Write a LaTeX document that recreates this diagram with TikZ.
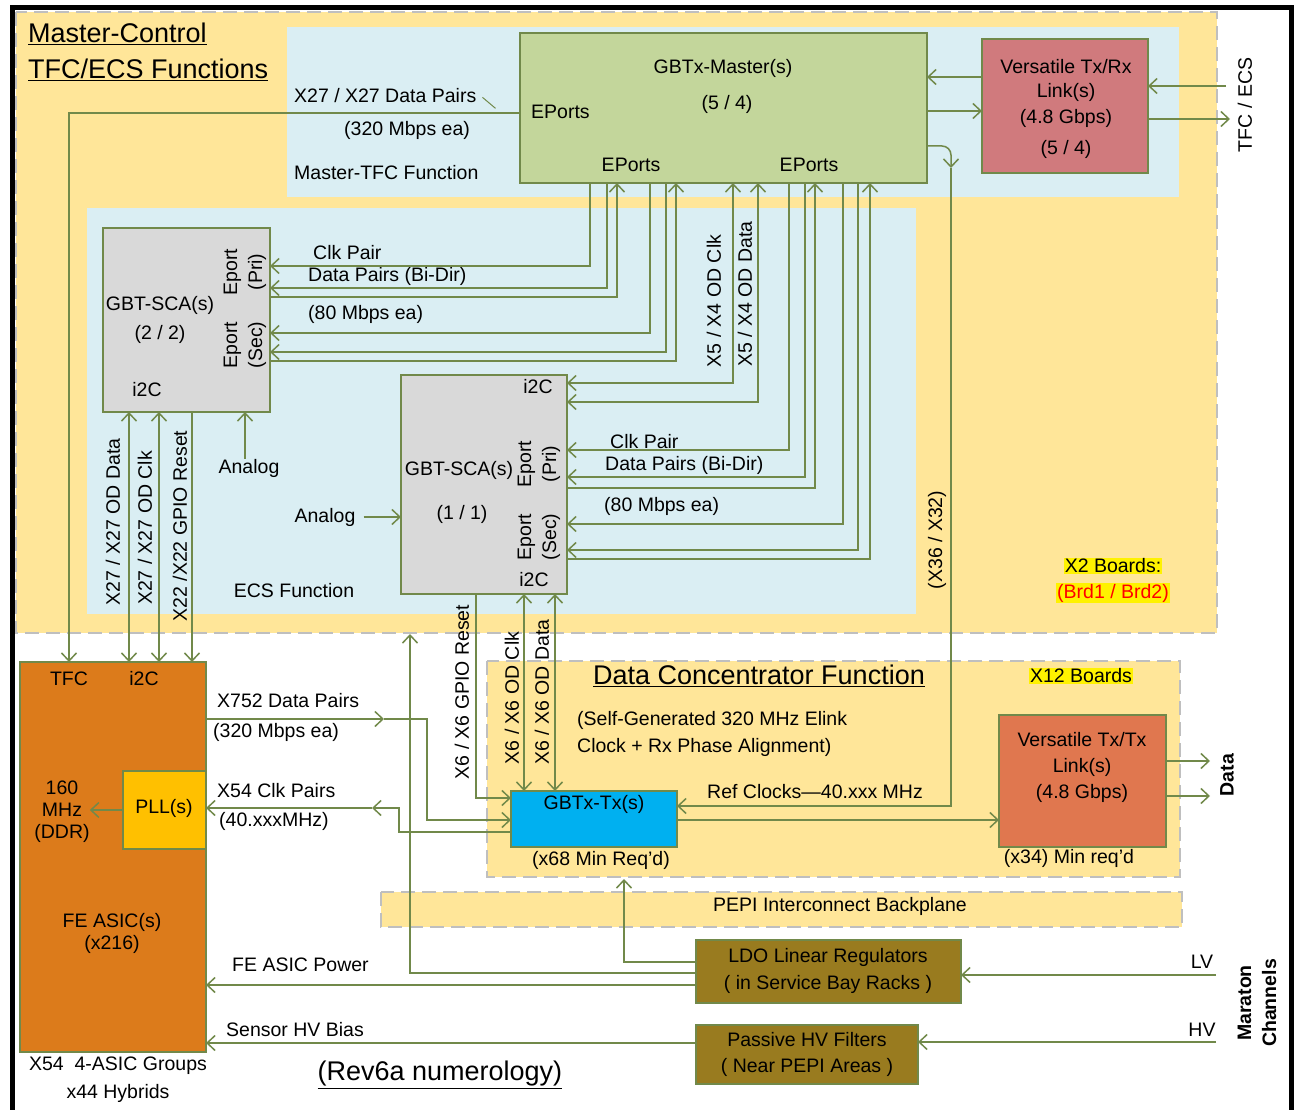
\documentclass[tikz,border=0pt]{standalone}
\usepackage{fontspec}
\setmainfont{Liberation Sans}
\usetikzlibrary{arrows.meta}

\definecolor{zoneyel}{HTML}{FFE699}
\definecolor{zoneblue}{HTML}{DAEEF3}
\definecolor{dashgray}{HTML}{BFBFBF}
\definecolor{wireg}{HTML}{71894A}
\definecolor{mastergrn}{HTML}{C3D69B}
\definecolor{vlinkred}{HTML}{D07A7D}
\definecolor{scagray}{HTML}{D9D9D9}
\definecolor{gtxblue}{HTML}{00B0F0}
\definecolor{vtxorange}{HTML}{E0774F}
\definecolor{feorange}{HTML}{DC7B1B}
\definecolor{pllgold}{HTML}{FFC000}
\definecolor{ldobrown}{HTML}{997B1F}

\newcommand\bodyfont{\fontsize{19.5}{25}\selectfont}
\newcommand\titlefont{\fontsize{27}{36}\selectfont}

\begin{document}
\begin{tikzpicture}[x=1pt, y=-1pt, >={Straight Barb[length=8pt,width=15pt]},
  wire/.style={draw=wireg, line width=1.5pt},
  box/.style={draw=wireg, line width=1.8pt, anchor=north west, inner sep=0pt, outer sep=0pt},
  zone/.style={fill=zoneyel, draw=dashgray, line width=2.2pt, dash pattern=on 14pt off 7pt},
  panel/.style={fill=zoneblue},
  txt/.style={font=\bodyfont, inner sep=0pt},
  vtxt/.style={txt, rotate=90},
  ttl/.style={font=\titlefont, inner sep=0pt},
  fwd/.style={->}, back/.style={<-}, both/.style={<->},
  hilite/.style={fill=yellow, inner sep=1pt}]
  \useasboundingbox (0,0) rectangle (1294,1110);

  % Background areas
  \draw[zone] (16,12) rectangle (1217,633);
  \fill[panel] (287,27) rectangle (1179,197);
  \fill[panel] (87,208) rectangle (916,614);
  \draw[zone] (487,661) rectangle (1180,877);
  \draw[zone] (381,892) rectangle (1182,927);

  % Frame
  \draw[line width=5pt] (12,1115) -- (12,8) -- (1291,8) -- (1291,1115);

  % Boxes
  \node[box, fill=mastergrn, minimum width=407, minimum height=150] (master) at (520,33) {};
  \node[box, fill=vlinkred, minimum width=166, minimum height=134] (vrx) at (982,39) {};
  \node[box, fill=scagray, minimum width=167, minimum height=184] (sca2) at (103,228) {};
  \node[box, fill=scagray, minimum width=166, minimum height=219] (sca1) at (401,375) {};
  \node[box, fill=feorange, minimum width=186, minimum height=390] (fe) at (20,662) {};
  \node[box, fill=pllgold, minimum width=83, minimum height=78] (pll) at (123,771) {};
  \node[box, fill=gtxblue, minimum width=166, minimum height=56] (gtx) at (511,791) {};
  \node[box, fill=vtxorange, minimum width=167, minimum height=132] (vtx) at (999,715) {};
  \node[box, fill=ldobrown, minimum width=265, minimum height=63] (ldo) at (696,940) {};
  \node[box, fill=ldobrown, minimum width=222, minimum height=59] (hvf) at (696,1025) {};

  % Text
  \node[ttl, anchor=west] (mctitle) at (28,34) {\underline{Master-Control}};
  \node[ttl, anchor=west] (mcsub) at (28,70) {\underline{TFC/ECS Functions}};
  \node[txt, anchor=west] (dpairs) at (294,96) {X27 / X27 Data Pairs};
  \node[txt, anchor=west] (dpairsrate) at (344,130) {(320 Mbps ea)};
  \node[txt, anchor=west] (tfcfn) at (294,173) {Master-TFC Function};
  \node[txt, anchor=west] (eportsA) at (531,112) {EPorts};
  \node[txt] (mastername) at (723,68) {GBTx-Master(s)};
  \node[txt] (mastercount) at (727,104) {(5 / 4)};
  \node[txt] (eportsB) at (631,165) {EPorts};
  \node[txt] (eportsC) at (809,165) {EPorts};
  \node[txt] (vrxA) at (1066,67) {Versatile Tx/Rx};
  \node[txt] (vrxB) at (1066,92) {Link(s)};
  \node[txt] (vrxC) at (1066,118) {(4.8 Gbps)};
  \node[txt] (vrxD) at (1066,149) {(5 / 4)};
  \node[vtxt] (tfcecs) at (1245,105) {TFC / ECS};

  \node[txt] (sca2name) at (160,305) {GBT-SCA(s)};
  \node[txt] (sca2count) at (160,334) {(2 / 2)};
  \node[txt] (sca2i2c) at (147,390) {i2C};
  \node[vtxt, align=center] (sca2pri) at (245,272) {Eport\\(Pri)};
  \node[vtxt, align=center] (sca2sec) at (245,345) {Eport\\(Sec)};
  \node[txt, anchor=west] (clkA) at (313,253) {Clk Pair};
  \node[txt, anchor=west] (bidirA) at (308,276) {Data Pairs (Bi-Dir)};
  \node[txt, anchor=west] (rateA) at (308,314) {(80 Mbps ea)};

  \node[txt] (sca1i2cA) at (538,387) {i2C};
  \node[txt] (sca1name) at (459,470) {GBT-SCA(s)};
  \node[txt] (sca1count) at (462,514) {(1 / 1)};
  \node[vtxt, align=center] (sca1pri) at (539,464) {Eport\\(Pri)};
  \node[vtxt, align=center] (sca1sec) at (539,537) {Eport\\(Sec)};
  \node[txt] (sca1i2cB) at (534,580) {i2C};
  \node[txt, anchor=west] (clkB) at (610,442) {Clk Pair};
  \node[txt, anchor=west] (bidirB) at (605,465) {Data Pairs (Bi-Dir)};
  \node[txt, anchor=west] (rateB) at (604,506) {(80 Mbps ea)};
  \node[vtxt] (odclk) at (714,301) {X5 / X4 OD Clk};
  \node[vtxt] (oddata) at (745,294) {X5 / X4 OD Data};

  \node[txt] (analogA) at (249,468) {Analog};
  \node[txt] (analogB) at (325,517) {Analog};
  \node[txt] (ecsfn) at (294,591) {ECS Function};
  \node[vtxt] (refcount) at (937,540) {(X36 / X32)};
  \node[txt, hilite] (brdsA) at (1113,566) {X2 Boards:};
  \node[txt, hilite, text=red] (brdsB) at (1113,593) {(Brd1 / Brd2)};

  \node[vtxt] (feodata) at (113,522) {X27 / X27 OD Data};
  \node[vtxt] (feodclk) at (145,528) {X27 / X27 OD Clk};
  \node[vtxt] (fereset) at (180,526) {X22 /X22 GPIO Reset};
  \node[vtxt] (gtxreset) at (462,692) {X6 / X6 GPIO Reset};
  \node[vtxt] (gtxclk) at (512,698) {X6 / X6 OD Clk};
  \node[vtxt] (gtxdata) at (542,692) {X6 / X6 OD Data};

  \node[txt] (fetfc) at (69,679) {TFC};
  \node[txt] (fei2c) at (144,679) {i2C};
  \node[txt, align=center, font=\fontsize{19.5}{22}\selectfont] (mhz) at (62,812) {160\\MHz\\(DDR)};
  \node[txt] (pllname) at (164,808) {PLL(s)};
  \node[txt, align=center, font=\fontsize{19.5}{22}\selectfont] (fename) at (112,933) {FE ASIC(s)\\(x216)};
  \node[txt] (groups) at (118,1066) {X54~ 4-ASIC Groups};
  \node[txt] (hybrids) at (118,1093) {x44 Hybrids};
  \node[ttl] (numerology) at (440,1075) {\underline{(Rev6a numerology)}};

  \node[txt, anchor=west] (fedata) at (217,701) {X752 Data Pairs};
  \node[txt, anchor=west] (fedatarate) at (213,732) {(320 Mbps ea)};
  \node[txt, anchor=west] (feclk) at (217,791) {X54 Clk Pairs};
  \node[txt, anchor=west] (feclkfreq) at (219,821) {(40.xxxMHz)};

  \node[ttl] (dctitle) at (759,676) {\underline{Data Concentrator Function}};
  \node[txt, hilite] (dcboards) at (1081,676) {X12 Boards};
  \node[txt, anchor=west] (dcnoteA) at (577,720) {(Self-Generated 320 MHz Elink};
  \node[txt, anchor=west] (dcnoteB) at (577,747) {Clock + Rx Phase Alignment)};
  \node[txt] (gtxname) at (594,804) {GBTx-Tx(s)};
  \node[txt] (refclk) at (815,792) {Ref Clocks—40.xxx MHz};
  \node[txt] (gtxmin) at (601,860) {(x68 Min Req'd)};
  \node[txt] (vtxA) at (1082,740) {Versatile Tx/Tx};
  \node[txt] (vtxB) at (1082,767) {Link(s)};
  \node[txt] (vtxC) at (1082,793) {(4.8 Gbps)};
  \node[txt] (vtxmin) at (1069,858) {(x34) Min req'd};
  \node[vtxt, font=\bodyfont\bfseries] (dataout) at (1227,775) {Data};

  \node[txt] (pepi) at (840,906) {PEPI Interconnect Backplane};
  \node[txt] (ldoA) at (828,957) {LDO Linear Regulators};
  \node[txt] (ldoB) at (828,984) {( in Service Bay Racks )};
  \node[txt] (hvfA) at (807,1040) {Passive HV Filters};
  \node[txt] (hvfB) at (807,1067) {( Near PEPI Areas )};
  \node[txt, anchor=west] (fepower) at (232,965) {FE ASIC Power};
  \node[txt, anchor=west] (hvbias) at (226,1030) {Sensor HV Bias};
  \node[txt] (lvlabel) at (1202,962) {LV};
  \node[txt] (hvlabel) at (1202,1030) {HV};
  \node[vtxt, align=center, font=\fontsize{19.5}{25}\selectfont\bfseries] (maraton) at (1257,1003) {Maraton\\Channels};

  % GBTx-Master and the versatile link
  \coordinate (tfcin) at (1226,86);
  \coordinate (tfcout) at (1230,119);
  \draw[wire,->] (vrx.west |- 0,77) -- (master.east |- 0,77);
  \draw[wire,->] (master.east |- 0,111) -- (vrx.west |- 0,111);
  \draw[wire,->] (tfcin) -- (vrx.east |- tfcin);
  \draw[wire,->] (vrx.east |- tfcout) -- (tfcout);

  % EPorts to the SCAs
  \foreach \xx/\yy/\tip/\sca in {590/266/fwd/sca2, 607/288/fwd/sca2, 617/297/back/sca2,
      650/333/fwd/sca2, 666/352/fwd/sca2, 676/361/back/sca2,
      733/383/both/sca1, 758/402/both/sca1,
      789/450/fwd/sca1, 805/477/fwd/sca1, 815/488/back/sca1,
      843/524/fwd/sca1, 858/550/fwd/sca1, 870/559/back/sca1}
    \draw[wire,\tip] (master.south -| \xx,0) |- (\sca.east |- 0,\yy);

  % TFC pairs and SCA lines to the FE ASICs
  \draw[wire,->] (master.west |- 0,113) -| (fe.north -| 69,0);
  \draw[wire, line width=1pt] ([shift={(6,-6)}]dpairs.south east) -- ++(13,11);
  \draw[wire,<->] (sca2.south -| 129,0) -- (fe.north -| 129,0);
  \draw[wire,<->] (sca2.south -| 159,0) -- (fe.north -| 159,0);
  \draw[wire,->] (sca2.south -| 192,0) -- (fe.north -| 192,0);
  \draw[wire,->] (analogA.north -| 245,0) -- (sca2.south -| 245,0);
  \draw[wire,->] ([xshift=8pt]analogB.east) -- (sca1.west |- analogB.east);

  % SCA to GBTx-Tx
  \draw[wire,->] (sca1.south -| 476,0) |- (gtx.west |- 0,798);
  \draw[wire,<->] (sca1.south -| 524,0) -- (gtx.north -| 524,0);
  \draw[wire,<->] (sca1.south -| 555,0) -- (gtx.north -| 555,0);

  % FE data and clock pairs
  \coordinate (dmid) at (384,719);
  \draw[wire,->] (fe.east |- dmid) -- (dmid);
  \draw[wire,->] (dmid) -- (427,719) |- (gtx.west |- 0,820);
  \coordinate (cmid) at (372,808);
  \draw[wire,->] (gtx.west |- 0,832) -| (399,808) -- (cmid);
  \draw[wire,->] (cmid) -- (pll.east |- cmid);
  \draw[wire,->] (pll.west) -- (mhz.east |- pll.west);

  % Reference clocks and data out
  \coordinate (refturn) at (951,168);
  \draw[wire,->,rounded corners=9pt] (master.east |- 0,146) -| (refturn);
  \draw[wire,->] (refturn) |- (gtx.east |- 0,806);
  \draw[wire,->] (gtx.east |- 0,820) -- (vtx.west |- 0,820);
  \coordinate (dout1) at (1210,761);
  \coordinate (dout2) at (1210,796);
  \draw[wire,->] (vtx.east |- dout1) -- (dout1);
  \draw[wire,->] (vtx.east |- dout2) -- (dout2);

  % Power
  \coordinate (mcbot) at (410,634);
  \coordinate (dcbot) at (624,879);
  \draw[wire,->] (ldo.west |- 0,973) -| (mcbot);
  \draw[wire,->] (ldo.west |- 0,962) -| (dcbot);
  \draw[wire,->] (ldo.west |- 0,985) -- (fe.east |- 0,985);
  \draw[wire,->] (hvf.west |- 0,1043) -- (fe.east |- 0,1043);
  \coordinate (lvin) at (1216,975);
  \coordinate (hvin) at (1216,1042);
  \draw[wire,->] (lvin) -- (ldo.east |- lvin);
  \draw[wire,->] (hvin) -- (hvf.east |- hvin);
\end{tikzpicture}
\end{document}
